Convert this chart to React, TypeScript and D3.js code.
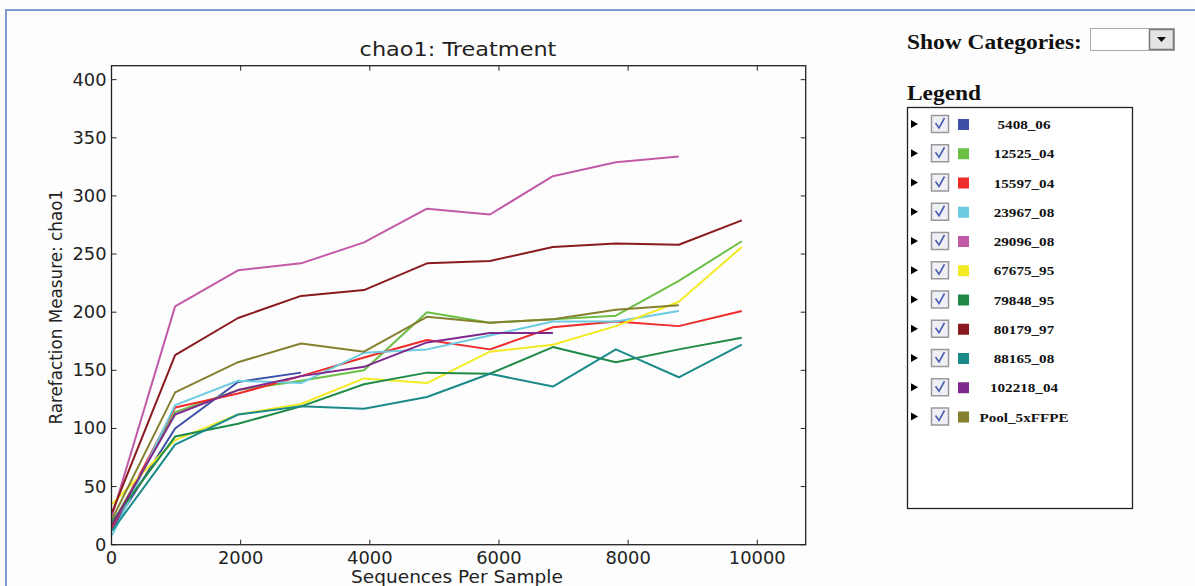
import React, { useRef, useEffect } from "react";
import * as d3 from "d3";

// rarefaction depths (sequences per sample)
const depths = [10, 985, 1960, 2935, 3910, 4885, 5860, 6835, 7810, 8785, 9760];

const sampleNames = [
  "5408_06", "12525_04", "15597_04", "23967_08", "29096_08", "67675_95",
  "79848_95", "80179_97", "88165_08", "102218_04", "Pool_5xFFPE"
];

const sampleColors = [
  "#3d4fa8", "#6cbf45", "#ee2a2a", "#6ccbe0", "#c25aa8", "#f2ea25",
  "#1f8a48", "#8a1a1e", "#1b8a8a", "#7e2a8c", "#85802f"
];

// chao1 values per sample, one per depth (shorter arrays stop early)
const s5408_06 = [14, 100, 140, 148];
const s12525_04 = [18, 114, 133, 141, 150, 200, 191, 194, 197, 227, 261];
const s15597_04 = [15, 118, 130, 145, 161, 176, 168, 187, 192, 188, 201];
const s23967_08 = [8, 120, 141, 139, 165, 168, 180, 192, 192, 201];
const s29096_08 = [25, 205, 236, 242, 260, 289, 284, 317, 329, 334];
const s67675_95 = [35, 90, 112, 121, 143, 139, 166, 172, 188, 209, 256];
const s79848_95 = [20, 93, 104, 119, 138, 148, 147, 170, 157, 168, 178];
const s80179_97 = [28, 163, 195, 214, 219, 242, 244, 256, 259, 258, 279];
const s88165_08 = [12, 86, 112, 119, 117, 127, 147, 136, 168, 144, 172];
const s102218_04 = [17, 112, 133, 145, 153, 174, 182, 182];
const sPool = [22, 131, 157, 173, 166, 196, 191, 194, 202, 206];

const sampleValues = [
  s5408_06, s12525_04, s15597_04, s23967_08, s29096_08, s67675_95,
  s79848_95, s80179_97, s88165_08, s102218_04, sPool
];

const xTicks = [0, 2000, 4000, 6000, 8000, 10000];
const yTicks = [0, 50, 100, 150, 200, 250, 300, 350, 400];

// the screenshot is a bit wider than tall, so horizontal text gets stretched
function stretch(sel, factor) {
  const len = sel.node().getComputedTextLength();
  sel.attr("textLength", len * factor).attr("lengthAdjust", "spacingAndGlyphs");
  return sel;
}

export default function App() {
  const svgRef = useRef(null);

  useEffect(() => {
    const svg = d3.select(svgRef.current);
    svg.selectAll("*").remove();

    const sans = "'DejaVu Sans', sans-serif";
    const serif = "'Liberation Serif', 'DejaVu Serif', serif";

    // page frame
    svg.append("rect").attr("width", 1195).attr("height", 586).attr("fill", "#fdfdfd");
    svg.append("path")
      .attr("d", "M6,586 L6,10 L1195,10")
      .attr("fill", "none")
      .attr("stroke", "#4f7fc4")
      .attr("stroke-width", 1.5);

    const left = 111.5, right = 805.7, top = 65.7, bottom = 544.7;

    const x = d3.scaleLinear().domain([0, 10750]).range([left, right]);
    const y = d3.scaleLinear().domain([0, 412]).range([bottom, top]);

    // lines
    const line = d3.line().x((d) => x(d[0])).y((d) => y(d[1]));
    sampleValues.forEach((vals, i) => {
      const pts = vals.map((v, j) => [depths[j], v]);
      svg.append("path")
        .attr("d", line(pts))
        .attr("fill", "none")
        .attr("stroke", sampleColors[i])
        .attr("stroke-width", 2)
        .attr("stroke-linejoin", "round");
    });

    // axes box
    svg.append("rect")
      .attr("x", left).attr("y", top)
      .attr("width", right - left).attr("height", bottom - top)
      .attr("fill", "none").attr("stroke", "#222").attr("stroke-width", 1.3);

    const tickLen = 5;
    xTicks.forEach((t) => {
      svg.append("line").attr("x1", x(t)).attr("x2", x(t))
        .attr("y1", bottom).attr("y2", bottom - tickLen).attr("stroke", "#222");
      svg.append("line").attr("x1", x(t)).attr("x2", x(t))
        .attr("y1", top).attr("y2", top + tickLen).attr("stroke", "#222");
      stretch(svg.append("text")
        .attr("x", x(t)).attr("y", bottom + 19)
        .attr("text-anchor", "middle")
        .style("font-family", sans).style("font-size", "17px").attr("fill", "#222")
        .text(t), 1.05);
    });
    yTicks.forEach((t) => {
      svg.append("line").attr("x1", left).attr("x2", left + tickLen)
        .attr("y1", y(t)).attr("y2", y(t)).attr("stroke", "#222");
      svg.append("line").attr("x1", right).attr("x2", right - tickLen)
        .attr("y1", y(t)).attr("y2", y(t)).attr("stroke", "#222");
      stretch(svg.append("text")
        .attr("x", left - 5).attr("y", y(t) + 6)
        .attr("text-anchor", "end")
        .style("font-family", sans).style("font-size", "17px").attr("fill", "#222")
        .text(t), 1.05);
    });

    stretch(svg.append("text")
      .attr("x", 458).attr("y", 56).attr("text-anchor", "middle")
      .style("font-family", sans).style("font-size", "20px").attr("fill", "#222")
      .text("chao1: Treatment"), 1.12);
    stretch(svg.append("text")
      .attr("x", 457).attr("y", 583).attr("text-anchor", "middle")
      .style("font-family", sans).style("font-size", "17px").attr("fill", "#222")
      .text("Sequences Per Sample"), 1.09);
    svg.append("text")
      .attr("transform", `translate(62,${(top + bottom) / 2 + 2}) rotate(-90)`)
      .attr("text-anchor", "middle")
      .style("font-family", sans).style("font-size", "16.8px").attr("fill", "#222")
      .text("Rarefaction Measure: chao1");

    // category selector
    stretch(svg.append("text")
      .attr("x", 907).attr("y", 49)
      .style("font-family", serif).style("font-size", "20px").style("font-weight", "bold")
      .attr("fill", "#111")
      .text("Show Categories:"), 1.17);
    svg.append("rect")
      .attr("x", 1090.5).attr("y", 28.5).attr("width", 84).attr("height", 22)
      .attr("fill", "#fff").attr("stroke", "#aaa");
    svg.append("rect")
      .attr("x", 1149.5).attr("y", 29.5).attr("width", 24).attr("height", 20)
      .attr("fill", "#e4e4e4").attr("stroke", "#777").attr("stroke-width", 1.5);
    svg.append("path").attr("d", "M1157,37 L1166,37 L1161.5,42 Z").attr("fill", "#111");

    // legend
    stretch(svg.append("text")
      .attr("x", 907).attr("y", 100)
      .style("font-family", serif).style("font-size", "20px").style("font-weight", "bold")
      .attr("fill", "#111")
      .text("Legend"), 1.17);
    svg.append("rect")
      .attr("x", 907.5).attr("y", 107.5).attr("width", 225).attr("height", 401)
      .attr("fill", "#fff").attr("stroke", "#222").attr("stroke-width", 1.3);

    const rowY = d3.scaleLinear().domain([0, 10]).range([124, 416.5]);
    sampleNames.forEach((name, i) => {
      const cy = rowY(i);
      const g = svg.append("g");
      g.append("path")
        .attr("d", `M911,${cy - 4} L918,${cy} L911,${cy + 4} Z`)
        .attr("fill", "#000");
      g.append("rect")
        .attr("x", 931.5).attr("y", cy - 8.5).attr("width", 17).attr("height", 17)
        .attr("fill", "#eef0f6").attr("stroke", "#999").attr("stroke-width", 1.5);
      g.append("path")
        .attr("d", `M935.5,${cy - 1} L939,${cy + 4} L944.5,${cy - 6}`)
        .attr("fill", "none").attr("stroke", "#4a5fae").attr("stroke-width", 1.6);
      g.append("rect")
        .attr("x", 958).attr("y", cy - 5).attr("width", 11).attr("height", 11)
        .attr("fill", sampleColors[i]);
      stretch(g.append("text")
        .attr("x", 1024).attr("y", cy + 5)
        .attr("text-anchor", "middle")
        .style("font-family", serif).style("font-size", "13.5px").style("font-weight", "bold")
        .attr("fill", "#111")
        .text(name), 1.12);
    });
  }, []);

  return (
    <svg
      ref={svgRef}
      width={1195}
      height={586}
      style={{ position: "absolute", left: 0, top: 0 }}
    />
  );
}
